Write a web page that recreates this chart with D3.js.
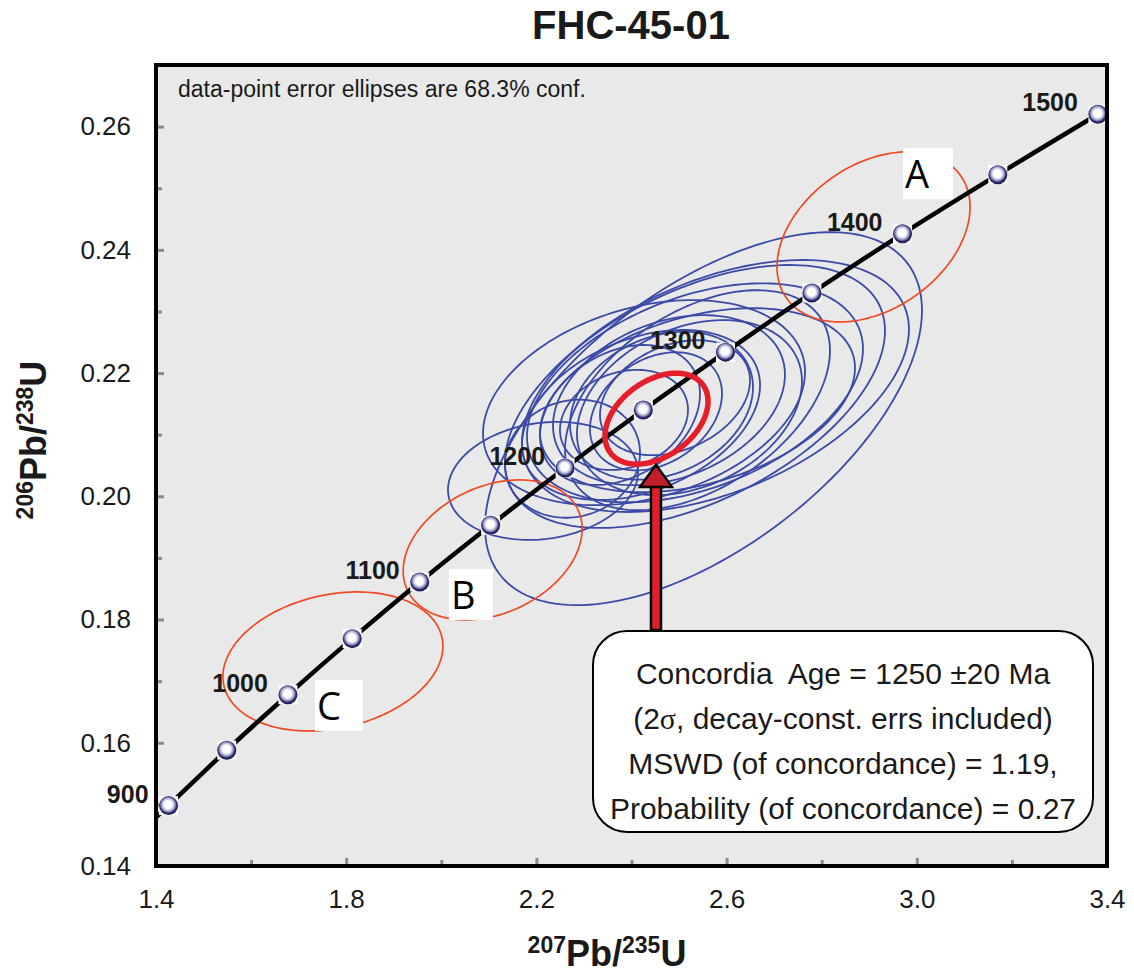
<!DOCTYPE html>
<html>
<head>
<meta charset="utf-8">
<script src="https://cdn.jsdelivr.net/npm/d3@7"></script>
<style>
  body { margin: 0; background: #fff; }
  svg  { display: block; font-family: "Liberation Sans", Arial, sans-serif; }
</style>
</head>
<body>
<svg id="chart" width="1134" height="976"></svg>
<script>
// ------------------------------------------------------------
// DATA
// ------------------------------------------------------------

// concordia ages (Ma) and the matching ratios
var ages  = [900, 950, 1000, 1050, 1100, 1150, 1200, 1250, 1300, 1350, 1400, 1450, 1500];
var pb207 = [1.4264, 1.5488, 1.6774, 1.8126, 1.9546, 2.1037, 2.2603, 2.4249, 2.5977, 2.7793, 2.9700, 3.1704, 3.3809];
var pb206 = [0.1498, 0.1588, 0.1678, 0.1769, 0.1861, 0.1953, 0.2046, 0.2140, 0.2234, 0.2330, 0.2426, 0.2522, 0.2620];
var labelledAges = [900, 1000, 1100, 1200, 1300, 1400, 1500];
// the curve runs in from the left edge
var curveStart = [1.400, 0.1479];

var xMajor = [1.4, 1.8, 2.2, 2.6, 3.0, 3.4];
var xMinor = [1.6, 2.0, 2.4, 2.8, 3.2];
var yMajor = [0.14, 0.16, 0.18, 0.20, 0.22, 0.24, 0.26];
var yMinor = [0.15, 0.17, 0.19, 0.21, 0.23, 0.25];

// accepted analyses (blue): centre, half-width, half-height, correlation
var blueCx  = [2.2139, 2.5514, 2.4263, 2.5335, 2.5766, 2.5335, 2.5388, 2.4788, 2.4631, 2.5219, 2.4515, 2.3842, 2.2759, 2.4200, 2.3758, 2.4915, 2.5388];
var blueCy  = [0.2025, 0.2126, 0.2152, 0.2162, 0.2179, 0.2168, 0.2156, 0.2156, 0.2147, 0.2144, 0.2138, 0.2124, 0.2061, 0.2132, 0.2132, 0.2160, 0.2156];
var blueSx  = [0.1998, 0.4595, 0.3386, 0.3996, 0.4069, 0.3533, 0.3312, 0.2439, 0.1924, 0.2366, 0.1388, 0.1346, 0.1420, 0.2503, 0.1682, 0.1577, 0.2786];
var blueSy  = [0.00958, 0.03027, 0.01664, 0.02134, 0.02045, 0.01777, 0.01493, 0.0138, 0.01201, 0.0142, 0.00958, 0.00812, 0.00958, 0.0138, 0.01136, 0.00933, 0.01785];
var blueRho = [0.15, 0.58, 0.30, 0.50, 0.45, 0.40, 0.35, 0.30, 0.25, 0.30, 0.30, 0.20, 0.10, 0.35, 0.30, 0.30, 0.45];

// rejected analyses (orange) A, B, C
var rejNames = ['A', 'B', 'C'];
var rejCx    = [2.909, 2.108, 1.772];
var rejCy    = [0.2421, 0.1913, 0.1732];
var rejSx    = [0.203, 0.1882, 0.2313];
var rejSy    = [0.0138, 0.01136, 0.01128];
var rejRho   = [0.35, 0.30, 0.22];
// top-left corner of each white label box
var rejBoxX  = [2.971, 2.016, 1.7344];
var rejBoxY  = [0.2565, 0.1882, 0.1702];

// concordia age ellipse: cx, cy, sx, sy, rho
var ageEllipse = [2.4526, 0.2126, 0.1083, 0.00738, 0.38];

// arrow: x, tip y, tail y
var arrow = [2.4515, 0.2051, 0.1783];

var statLines = [
  'Concordia  Age = 1250 \u00b120 Ma',
  '(2\u03c3, decay-const. errs included)',
  'MSWD (of concordance) = 1.19,',
  'Probability (of concordance) = 0.27'
];

// ------------------------------------------------------------
// SCALES
// ------------------------------------------------------------
var svg = d3.select('#chart');
var x = d3.scaleLinear().domain([1.4, 3.4]).range([156, 1107]);
var y = d3.scaleLinear().domain([0.14, 0.27]).range([866, 65]);

var defs = svg.append('defs');
defs.append('clipPath').attr('id', 'plotclip')
  .append('rect')
  .attr('x', x(1.4)).attr('y', y(0.27))
  .attr('width', x(3.4) - x(1.4)).attr('height', y(0.14) - y(0.27));

var grad = defs.append('radialGradient').attr('id', 'dot')
  .attr('cx', '48%').attr('cy', '45%').attr('r', '55%');
grad.append('stop').attr('offset', '0%').attr('stop-color', '#ffffff');
grad.append('stop').attr('offset', '38%').attr('stop-color', '#ffffff');
grad.append('stop').attr('offset', '62%').attr('stop-color', '#a8a8d0');
grad.append('stop').attr('offset', '82%').attr('stop-color', '#2c2c6c');
grad.append('stop').attr('offset', '100%').attr('stop-color', '#14144a');

// plot background
svg.append('rect')
  .attr('x', x(1.4)).attr('y', y(0.27))
  .attr('width', x(3.4) - x(1.4)).attr('height', y(0.14) - y(0.27))
  .attr('fill', '#e9e9e9');

// ------------------------------------------------------------
// AXES (ticks point inward, grey)
// ------------------------------------------------------------
function styleTicks(g, w) {
  g.select('.domain').remove();
  g.selectAll('.tick line').attr('stroke', '#8a8a8a').attr('stroke-width', w);
}

svg.append('g')
  .attr('transform', 'translate(0,' + y(0.14) + ')')
  .call(d3.axisBottom(x).tickValues(xMinor).tickSize(-6).tickFormat(''))
  .call(function(g) { styleTicks(g, 3); });

svg.append('g')
  .attr('transform', 'translate(0,' + y(0.14) + ')')
  .call(d3.axisBottom(x).tickValues(xMajor).tickSize(-8).tickPadding(24).tickFormat(d3.format('.1f')))
  .call(function(g) {
    styleTicks(g, 3);
    g.selectAll('text').attr('font-size', 26).attr('fill', '#1a1a1a')
      .attr('font-family', '"Liberation Sans", Arial, sans-serif');
  });

svg.append('g')
  .attr('transform', 'translate(' + x(1.4) + ',0)')
  .call(d3.axisLeft(y).tickValues(yMinor).tickSize(-6).tickFormat(''))
  .call(function(g) { styleTicks(g, 3); });

svg.append('g')
  .attr('transform', 'translate(' + x(1.4) + ',0)')
  .call(d3.axisLeft(y).tickValues(yMajor).tickSize(-8).tickPadding(25).tickFormat(d3.format('.2f')))
  .call(function(g) {
    styleTicks(g, 3);
    g.selectAll('text').attr('font-size', 26).attr('fill', '#1a1a1a')
      .attr('font-family', '"Liberation Sans", Arial, sans-serif');
  });

// ------------------------------------------------------------
// ELLIPSES
// ------------------------------------------------------------
// bounding half-widths sx, sy and correlation rho
function ellipsePoints(cx, cy, sx, sy, rho) {
  var pts = [];
  var k = Math.sqrt(1 - rho * rho);
  for (var i = 0; i < 160; i++) {
    var t = i / 160 * 2 * Math.PI;
    pts.push([cx + sx * Math.cos(t), cy + sy * (rho * Math.cos(t) + k * Math.sin(t))]);
  }
  return pts;
}

var ellLine = d3.line()
  .x(function(d) { return x(d[0]); })
  .y(function(d) { return y(d[1]); })
  .curve(d3.curveLinearClosed);

var plot = svg.append('g').attr('clip-path', 'url(#plotclip)');

var blueG = plot.append('g');
for (var i = 0; i < blueCx.length; i++) {
  blueG.append('path')
    .attr('d', ellLine(ellipsePoints(blueCx[i], blueCy[i], blueSx[i], blueSy[i], blueRho[i])))
    .attr('fill', 'none')
    .attr('stroke', '#3a4aa6')
    .attr('stroke-width', 1.8);
}

var rejG = plot.append('g');
for (var j = 0; j < rejNames.length; j++) {
  rejG.append('path')
    .attr('d', ellLine(ellipsePoints(rejCx[j], rejCy[j], rejSx[j], rejSy[j], rejRho[j])))
    .attr('fill', 'none')
    .attr('stroke', '#f04a25')
    .attr('stroke-width', 1.7);
}

// concordia curve
var curvePts = [curveStart].concat(pb207.map(function(v, i) { return [v, pb206[i]]; }));
plot.append('path')
  .attr('d', d3.line()
    .x(function(d) { return x(d[0]); })
    .y(function(d) { return y(d[1]); })
    .curve(d3.curveCatmullRom)(curvePts))
  .attr('fill', 'none')
  .attr('stroke', '#000')
  .attr('stroke-width', 4.5);

// concordia age ellipse (thick red)
plot.append('path')
  .attr('d', ellLine(ellipsePoints(ageEllipse[0], ageEllipse[1], ageEllipse[2], ageEllipse[3], ageEllipse[4])))
  .attr('fill', 'none')
  .attr('stroke', '#e61e2b')
  .attr('stroke-width', 5.5);

// age markers
var markers = svg.append('g');
markers.selectAll('rect')
  .data(ages).enter().append('rect')
  .attr('x', function(d, i) { return x(pb207[i]) - 9.5; })
  .attr('y', function(d, i) { return y(pb206[i]) - 9.5; })
  .attr('width', 19).attr('height', 19)
  .attr('fill', '#fff');
markers.selectAll('circle')
  .data(ages).enter().append('circle')
  .attr('cx', function(d, i) { return x(pb207[i]); })
  .attr('cy', function(d, i) { return y(pb206[i]); })
  .attr('r', 9.5)
  .attr('fill', 'url(#dot)');

// age labels
svg.append('g').selectAll('text')
  .data(labelledAges).enter().append('text')
  .attr('x', function(d) { return x(pb207[ages.indexOf(d)]) - 20; })
  .attr('y', function(d) { return y(pb206[ages.indexOf(d)]) - 3; })
  .attr('text-anchor', 'end')
  .attr('font-size', 25)
  .attr('font-weight', 'bold')
  .attr('fill', '#1a1a1a')
  .text(function(d) { return d; });

// A, B, C label boxes
var boxW = [50, 44, 48];
for (var k = 0; k < rejNames.length; k++) {
  svg.append('rect')
    .attr('x', x(rejBoxX[k])).attr('y', y(rejBoxY[k]))
    .attr('width', boxW[k]).attr('height', 51)
    .attr('fill', '#fff');
  svg.append('text')
    .attr('x', x(rejBoxX[k]) + 2).attr('y', y(rejBoxY[k]) + 40)
    .attr('font-family', '"Open Sans", sans-serif')
    .attr('font-size', 38)
    .attr('fill', '#000')
    .text(rejNames[k]);
}

// ------------------------------------------------------------
// ARROW + RESULT BOX
// ------------------------------------------------------------
var ax = x(arrow[0]), tipY = y(arrow[1]), tailY = y(arrow[2]);
// shaft
svg.append('rect')
  .attr('x', ax - 5).attr('y', tipY + 20)
  .attr('width', 10).attr('height', tailY - tipY - 20)
  .attr('fill', '#e11f2b')
  .attr('stroke', '#000')
  .attr('stroke-width', 2.5);
// head
svg.append('path')
  .attr('d', 'M' + (ax - 16) + ',' + (tipY + 22) +
             'L' + ax + ',' + tipY +
             'L' + (ax + 16) + ',' + (tipY + 22) + 'Z')
  .attr('fill', '#c21d2c')
  .attr('stroke', '#000')
  .attr('stroke-width', 2.5)
  .attr('stroke-linejoin', 'miter');

var boxX = 593, boxY = 631, boxWd = 500, boxHt = 201;
svg.append('rect')
  .attr('x', boxX).attr('y', boxY)
  .attr('width', boxWd).attr('height', boxHt)
  .attr('rx', 34).attr('ry', 34)
  .attr('fill', '#fff')
  .attr('stroke', '#000')
  .attr('stroke-width', 2);

var stat = svg.append('g')
  .attr('font-size', 30)
  .attr('fill', '#1a1a1a')
  .attr('text-anchor', 'middle');
statLines.forEach(function(line, i) {
  var t = stat.append('text')
    .attr('x', boxX + boxWd / 2)
    .attr('y', boxY + 53 + i * 45)
    .attr('xml:space', 'preserve');
  if (line.indexOf('\u03c3') >= 0) {
    var parts = line.split('\u03c3');
    t.append('tspan').text(parts[0]);
    t.append('tspan').attr('font-family', '"Liberation Serif", serif').text('\u03c3');
    t.append('tspan').text(parts[1]);
  } else {
    t.text(line);
  }
});

// ------------------------------------------------------------
// FRAME, TITLES
// ------------------------------------------------------------
svg.append('rect')
  .attr('x', x(1.4)).attr('y', y(0.27))
  .attr('width', x(3.4) - x(1.4)).attr('height', y(0.14) - y(0.27))
  .attr('fill', 'none')
  .attr('stroke', '#000')
  .attr('stroke-width', 4);

svg.append('text')
  .attr('x', 178).attr('y', 97)
  .attr('font-size', 23)
  .attr('fill', '#1a1a1a')
  .text('data-point error ellipses are 68.3% conf.');

svg.append('text')
  .attr('x', 631).attr('y', 39)
  .attr('text-anchor', 'middle')
  .attr('font-size', 40)
  .attr('font-weight', 'bold')
  .attr('fill', '#1a1a1a')
  .text('FHC-45-01');

function isotopeLabel(g, top1, base1, top2, base2) {
  g.append('tspan').attr('font-size', 23).attr('dy', -13).text(top1);
  g.append('tspan').attr('font-size', 36).attr('dy', 13).text(base1);
  g.append('tspan').attr('font-size', 23).attr('dy', -13).text(top2);
  g.append('tspan').attr('font-size', 36).attr('dy', 13).text(base2);
}

var xl = svg.append('text')
  .attr('x', 607).attr('y', 966)
  .attr('text-anchor', 'middle')
  .attr('font-weight', 'bold')
  .attr('fill', '#1a1a1a');
isotopeLabel(xl, '207', 'Pb/', '235', 'U');

var yl = svg.append('text')
  .attr('transform', 'translate(46,440) rotate(-90)')
  .attr('text-anchor', 'middle')
  .attr('font-weight', 'bold')
  .attr('fill', '#1a1a1a');
isotopeLabel(yl, '206', 'Pb/', '238', 'U');
</script>
</body>
</html>
